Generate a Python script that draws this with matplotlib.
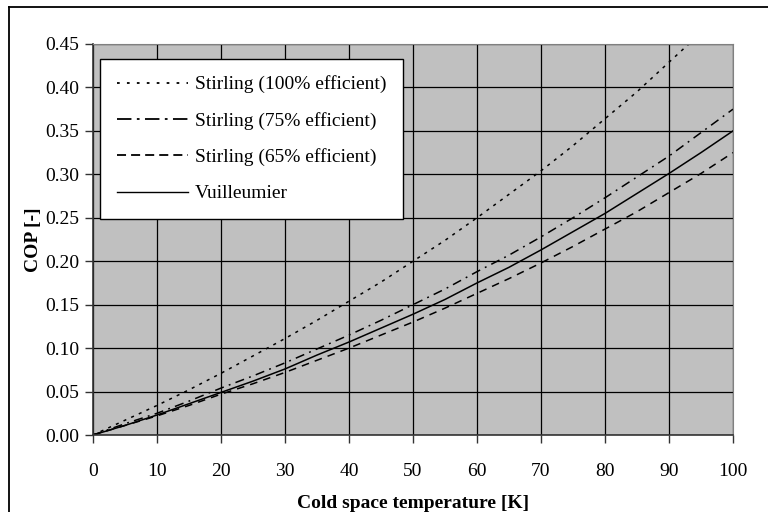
import matplotlib
matplotlib.use("Agg")
import matplotlib.pyplot as plt
from matplotlib.lines import Line2D
from matplotlib.ticker import MultipleLocator, FormatStrFormatter

plt.rcParams["font.family"] = ["Liberation Serif", "DejaVu Serif"]

# cold space temperature [K]
temps = [0, 5, 10, 15, 20, 25, 30, 35, 40, 45, 50, 55, 60, 65, 70, 75, 80, 85, 90, 95, 100]

# COP
stirling_100 = [0.0, 0.017, 0.034, 0.052, 0.071, 0.091, 0.111, 0.132, 0.154, 0.176, 0.200,
                0.224, 0.250, 0.277, 0.304, 0.333, 0.364, 0.395, 0.429, 0.463, 0.500]
stirling_75 = [0.0, 0.013, 0.025, 0.039, 0.054, 0.068, 0.083, 0.099, 0.115, 0.132, 0.150,
               0.168, 0.188, 0.207, 0.228, 0.250, 0.273, 0.297, 0.321, 0.348, 0.375]
stirling_65 = [0.0, 0.011, 0.022, 0.034, 0.047, 0.059, 0.072, 0.086, 0.100, 0.115, 0.130,
               0.146, 0.163, 0.180, 0.198, 0.217, 0.237, 0.257, 0.279, 0.301, 0.325]
vuilleumier = [0.0, 0.011, 0.023, 0.036, 0.049, 0.062, 0.076, 0.092, 0.107, 0.123, 0.139,
               0.156, 0.175, 0.193, 0.213, 0.234, 0.255, 0.278, 0.301, 0.325, 0.350]

series_labels = ["Stirling (100% efficient)", "Stirling (75% efficient)",
                 "Stirling (65% efficient)", "Vuilleumier"]

fig = plt.figure(figsize=(7.68, 5.12), dpi=100)
ax = fig.add_axes([93 / 768, 1 - 435 / 512, 640 / 768, 391 / 512])
ax.set_facecolor("#C0C0C0")

# outer chart frame (cut at right / bottom like the original)
fig.add_artist(Line2D([9 / 768, 9 / 768], [0, 1 - 7 / 512], transform=fig.transFigure,
                      color="black", lw=1.3))
fig.add_artist(Line2D([9 / 768, 1], [1 - 7 / 512, 1 - 7 / 512], transform=fig.transFigure,
                      color="black", lw=1.3))

dotted = (0, (2, 3.5))
dashdot = (0, (6, 3.5, 1.2, 3.5))
dashed = (0, (5, 4))

ax.plot(temps, stirling_100, color="black", lw=1.1, linestyle=dotted)
ax.plot(temps, stirling_75, color="black", lw=1.1, linestyle=dashdot)
ax.plot(temps, stirling_65, color="black", lw=1.1, linestyle=dashed)
ax.plot(temps, vuilleumier, color="black", lw=1.1, linestyle="-")

ax.set_xlim(0, 100)
ax.set_ylim(0, 0.45)
ax.xaxis.set_major_locator(MultipleLocator(10))
ax.yaxis.set_major_locator(MultipleLocator(0.05))
ax.yaxis.set_major_formatter(FormatStrFormatter("%.2f"))
ax.grid(True, color="black", lw=0.9)
ax.set_axisbelow(True)
ax.tick_params(direction="out", length=6, width=1, labelsize=14, pad=4, color="#333333")
ax.tick_params(axis="x", pad=14)
for side in ["top", "right"]:
    ax.spines[side].set_color("#808080")
for side in ["left", "bottom"]:
    ax.spines[side].set_color("#333333")
    ax.spines[side].set_linewidth(1.2)

ax.set_xlabel("Cold space temperature [K]", fontsize=14, fontweight="bold", labelpad=11)
ax.set_ylabel("COP [-]", fontsize=14, fontweight="bold", labelpad=2)

handles = [
    Line2D([], [], color="black", lw=1.3, linestyle=(0, (1.5, 4))),
    Line2D([], [], color="black", lw=1.3, linestyle=(0, (8, 3, 1.5, 3))),
    Line2D([], [], color="black", lw=1.3, linestyle=(0, (5, 2.8))),
    Line2D([], [], color="black", lw=1.0, linestyle="-"),
]
leg = ax.legend(handles, series_labels, loc="upper left", bbox_to_anchor=(7 / 640, 1 - 15 / 391),
                fontsize=14, frameon=True, fancybox=False, shadow=False, handlelength=3.7,
                handletextpad=0.35, labelspacing=0.95, borderpad=0.85, borderaxespad=0)
leg.get_frame().set_edgecolor("black")
leg.get_frame().set_linewidth(1.0)
leg.get_frame().set_facecolor("white")
leg.get_frame().set_alpha(1)

fig.savefig("out.png", dpi=100)
